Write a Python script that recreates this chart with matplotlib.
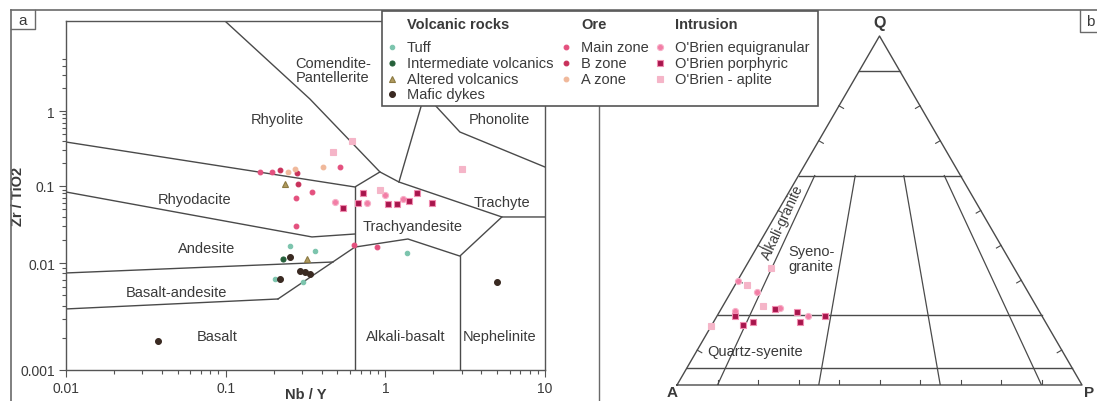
#!/usr/bin/env python3
"""Zr/TiO2 vs Nb/Y classification (a) and QAP ternary (b) for the O'Brien samples."""

import numpy as np
import matplotlib
matplotlib.use("Agg")
import matplotlib.pyplot as plt
from matplotlib.patches import Rectangle

plt.rcParams["font.family"] = ["Liberation Sans", "DejaVu Sans"]

# ---- panel a: Nb/Y (x) vs Zr/TiO2 (y) ----
tuff_nby = [0.253, 0.362, 0.204, 0.305, 1.36]
tuff_zr = [0.0166, 0.0143, 0.00708, 0.00663, 0.0135]
interm_nby = [0.229]
interm_zr = [0.0113]
altered_nby = [0.235, 0.323]
altered_zr = [0.106, 0.0113]
mafic_nby = [0.253, 0.292, 0.314, 0.337, 0.219, 0.0377, 5.00]
mafic_zr = [0.0120, 0.00841, 0.00824, 0.00789, 0.00708, 0.00187, 0.00663]
main_nby = [0.164, 0.195, 0.275, 0.275, 0.347, 0.520, 0.635, 0.885]
main_zr = [0.154, 0.154, 0.0698, 0.0303, 0.0836, 0.179, 0.0171, 0.0161]
bzone_nby = [0.219, 0.279, 0.284]
bzone_zr = [0.163, 0.149, 0.106]
azone_nby = [0.245, 0.272, 0.406]
azone_zr = [0.154, 0.169, 0.179]
equi_nby = [0.483, 0.768, 0.993, 1.29]
equi_zr = [0.0619, 0.0601, 0.0764, 0.0677]
porph_nby = [0.542, 0.724, 0.673, 1.04, 1.18, 1.41, 1.58, 1.96]
porph_zr = [0.0518, 0.0811, 0.0601, 0.0583, 0.0583, 0.0638, 0.0811, 0.0601]
aplite_nby = [0.470, 0.618, 3.02, 0.925]
aplite_zr = [0.284, 0.398, 0.169, 0.0887]

# ---- panel b: modal Q, A, P (%) of the intrusion ----
equi_q = [29.8, 26.6, 22.1, 21.2, 19.8]
equi_a = [70.0, 66.9, 63.5, 75.0, 57.8]
equi_p = [0.2, 6.5, 14.4, 3.8, 22.4]
porph_q = [21.8, 19.8, 20.9, 18.1, 19.8, 18.1, 17.2]
porph_a = [64.9, 75.7, 59.9, 60.6, 53.5, 72.2, 75.1]
porph_p = [13.3, 4.5, 19.2, 21.3, 26.7, 9.7, 7.7]
aplite_q = [33.5, 28.7, 22.6, 16.9]
aplite_a = [60.0, 68.3, 67.4, 83.1]
aplite_p = [6.5, 3.0, 10.0, 0.0]

# Winchester & Floyd field boundaries (Nb/Y, Zr/TiO2)
FIELD_LINES = [
    [(0.099, 15.85), (0.337, 1.445), (0.925, 0.154)],
    [(0.01, 0.386), (0.645, 0.0971), (0.925, 0.154), (1.217, 0.113), (5.37, 0.0396), (10, 0.0396)],
    [(2.40, 15.85), (1.217, 0.113)],
    [(1.745, 1.738), (2.10, 1.13), (2.93, 0.525), (10, 0.179)],
    [(5.37, 0.0396), (2.93, 0.0123), (1.385, 0.0205), (0.645, 0.0161)],
    [(0.645, 0.0971), (0.645, 0.001)],
    [(2.93, 0.0123), (2.93, 0.001)],
    [(0.01, 0.0836), (0.347, 0.0218), (0.645, 0.0238)],
    [(0.01, 0.00807), (0.470, 0.0103)],
    [(0.2126, 0.00461), (0.645, 0.0161)],
    [(0.01, 0.00372), (0.2126, 0.00461)],
]
FIELD_LABELS = [
    ("Comendite-\nPantellerite", 0.47, 3.5),
    ("Rhyolite", 0.212, 0.78),
    ("Phonolite", 5.2, 0.78),
    ("Rhyodacite", 0.0643, 0.0677),
    ("Trachyte", 5.37, 0.0619),
    ("Trachyandesite", 1.49, 0.0303),
    ("Andesite", 0.0763, 0.0157),
    ("Basalt-andesite", 0.0495, 0.00536),
    ("Basalt", 0.0882, 0.00208),
    ("Alkali-basalt", 1.35, 0.00208),
    ("Nephelinite", 5.2, 0.00208),
]

STYLE = {
    "Tuff": dict(marker="o", ms=3.2, color="#7cc4ad", mec="#7cc4ad"),
    "Intermediate volcanics": dict(marker="o", ms=3.6, color="#25603a", mec="#25603a"),
    "Altered volcanics": dict(marker="^", ms=4.4, color="#b09a5e", mec="#8c7a42"),
    "Mafic dykes": dict(marker="o", ms=4.2, color="#3a2a22", mec="#3a2a22"),
    "Main zone": dict(marker="o", ms=3.4, color="#e4507e", mec="#e4507e"),
    "B zone": dict(marker="o", ms=3.4, color="#c8305a", mec="#c8305a"),
    "A zone": dict(marker="o", ms=3.4, color="#f0b89a", mec="#f0b89a"),
    "O'Brien equigranular": dict(marker="o", ms=4.4, color="#f27ea6", mec="#f7b0c8"),
    "O'Brien porphyric": dict(marker="s", ms=4.6, color="#a8154c", mec="#f08cb0"),
    "O'Brien - aplite": dict(marker="s", ms=4.4, color="#f5b5c8", mec="#f5b5c8"),
}

LINE_C = "#4a4a4a"
TEXT_C = "#3a3a3a"
FS = 10.5

# the printed y axis is not evenly spaced per decade; follow it piecewise
Y_LOG = [-6.0, -3.0, -2.0, -1.0, 0.0, 4.0]
Y_POS = [-321.0, 0.0, 107.0, 184.0, 259.0, 559.0]


def y_fwd(v):
    v = np.asarray(v, dtype=float)
    lg = np.log10(np.where(v > 0, v, 1e-300))
    return np.interp(lg, Y_LOG, Y_POS)


def y_inv(p):
    return 10 ** np.interp(np.asarray(p, dtype=float), Y_POS, Y_LOG)


def tern_xy(q, a, p):
    q, a, p = (np.asarray(v, dtype=float) for v in (q, a, p))
    s = q + a + p
    return (p + 0.5 * q) / s, (np.sqrt(3) / 2) * q / s


def pt(ax, x, y, name, **kw):
    ax.plot(x, y, ls="none", mew=0.8, **STYLE[name], **kw)


fig = plt.figure(figsize=(10.97, 4.02), dpi=100)

# ---------------- panel a ----------------
ax = fig.add_axes([66 / 1097, 31 / 402, 479 / 1097, 349 / 402])
ax.set_xscale("log")
ax.set_yscale("function", functions=(y_fwd, y_inv))
ax.set_xlim(0.01, 10)
ax.set_ylim(0.001, 10 ** 1.2)

for seg in FIELD_LINES:
    xs, ys = zip(*seg)
    ax.plot(xs, ys, color=LINE_C, lw=1.0, zorder=1)
for txt, x, y in FIELD_LABELS:
    ax.text(x, y, txt, ha="center", va="center", fontsize=FS, color=TEXT_C,
            linespacing=1.0, zorder=2)

pt(ax, tuff_nby, tuff_zr, "Tuff", zorder=3)
pt(ax, interm_nby, interm_zr, "Intermediate volcanics", zorder=3)
pt(ax, altered_nby, altered_zr, "Altered volcanics", zorder=3)
pt(ax, mafic_nby, mafic_zr, "Mafic dykes", zorder=3)
pt(ax, main_nby, main_zr, "Main zone", zorder=4)
pt(ax, bzone_nby, bzone_zr, "B zone", zorder=4)
pt(ax, azone_nby, azone_zr, "A zone", zorder=4)
pt(ax, equi_nby, equi_zr, "O'Brien equigranular", zorder=4)
pt(ax, porph_nby, porph_zr, "O'Brien porphyric", zorder=5)
pt(ax, aplite_nby, aplite_zr, "O'Brien - aplite", zorder=4)

ax.set_xticks([0.01, 0.1, 1, 10])
ax.set_xticklabels(["0.01", "0.1", "1", "10"])
ax.set_xticks([m * 10.0 ** e for e in (-2, -1, 0) for m in range(2, 10)], minor=True)
ax.set_yticks([0.001, 0.01, 0.1, 1])
ax.set_yticklabels(["0.001", "0.01", "0.1", "1"])
ax.set_yticks([m * 10.0 ** e for e in (-3, -2, -1) for m in range(2, 10)] + [2, 3, 4, 5],
              minor=True)
ax.tick_params(which="both", direction="out", colors="#555555", labelcolor=TEXT_C,
               labelsize=10, width=0.8)
ax.tick_params(which="major", length=5, pad=3)
ax.tick_params(which="minor", length=3)
ax.xaxis.set_minor_formatter(plt.NullFormatter())
ax.yaxis.set_minor_formatter(plt.NullFormatter())
for sp in ax.spines.values():
    sp.set_color("#555555")
    sp.set_linewidth(1.0)

ax.set_xlabel("Nb / Y", fontsize=FS, fontweight="bold", color=TEXT_C)
ax.xaxis.set_label_coords(0.5, -0.05)
ax.set_ylabel("Zr / TiO2", fontsize=FS, fontweight="bold", color=TEXT_C)
ax.yaxis.set_label_coords(-0.086, 0.50)

# ---------------- panel b (QAP) ----------------
tx = fig.add_axes([677 / 1097, 16 / 402, 405 / 1097, 349 / 402])
tx.set_xlim(0, 1)
tx.set_ylim(0, np.sqrt(3) / 2)
tx.axis("off")

edge = tern_xy([0, 0, 100, 0], [100, 0, 0, 100], [0, 100, 0, 0])
tx.plot(*edge, color=LINE_C, lw=1.0, clip_on=False)
for q in (90, 60, 20, 5):
    x, y = tern_xy([q, q], [100 - q, 0], [0, 100 - q])
    tx.plot(x, y, color=LINE_C, lw=1.0)
for r in (0.10, 0.35, 0.65, 0.90):
    x, y = tern_xy([0, 60], [100 * (1 - r), 40 * (1 - r)], [100 * r, 40 * r])
    tx.plot(x, y, color=LINE_C, lw=0.9)

# small ticks every 10 % on the three edges (skipped where a field line already meets it)
L = 0.013
for k in range(10, 100, 10):
    bx, by = tern_xy(0, 100 - k, k)
    tx.plot([bx, bx], [by, by + L], color=LINE_C, lw=0.8)
    if k in (20, 60, 90):
        continue
    lx, ly = tern_xy(k, 100 - k, 0)
    tx.plot([lx, lx + 0.866 * L], [ly, ly - 0.5 * L], color=LINE_C, lw=0.8)
    rx, ry = tern_xy(k, 0, 100 - k)
    tx.plot([rx, rx - 0.866 * L], [ry, ry - 0.5 * L], color=LINE_C, lw=0.8)

pt(tx, *tern_xy(aplite_q, aplite_a, aplite_p), "O'Brien - aplite", zorder=4, clip_on=False)
pt(tx, *tern_xy(equi_q, equi_a, equi_p), "O'Brien equigranular", zorder=4, clip_on=False)
pt(tx, *tern_xy(porph_q, porph_a, porph_p), "O'Brien porphyric", zorder=5, clip_on=False)

tx.text(0.5, 0.90, "Q", ha="center", va="center", fontsize=11.5, fontweight="bold", color=TEXT_C)
tx.text(-0.012, -0.018, "A", ha="center", va="center", fontsize=11, fontweight="bold", color=TEXT_C)
tx.text(1.017, -0.018, "P", ha="center", va="center", fontsize=11, fontweight="bold", color=TEXT_C)
tx.text(0.262, 0.407, "Alkali-granite", ha="center", va="center", fontsize=FS - 0.5,
        color=TEXT_C, rotation=65, rotation_mode="anchor")
tx.text(0.274, 0.313, "Syeno-\ngranite", ha="left", va="center", fontsize=FS,
        color=TEXT_C, linespacing=1.1)
tx.text(0.074, 0.084, "Quartz-syenite", ha="left", va="center", fontsize=FS, color=TEXT_C)

# ---------------- frame, panel tags and legend ----------------
ov = fig.add_axes([0, 0, 1, 1], zorder=10)
ov.set_xlim(0, 1097)
ov.set_ylim(402, 0)
ov.axis("off")

FRAME_C = "#6a6a6a"
ov.plot([11, 1097], [11, 11], color=FRAME_C, lw=1.2, zorder=1)
ov.plot([11, 11], [11, 402], color=FRAME_C, lw=1.2, zorder=1)
ov.plot([599, 599], [11, 402], color=FRAME_C, lw=1.0, zorder=1)
ov.plot([11, 35, 35], [30, 30, 11], color=FRAME_C, lw=1.0, zorder=1)
ov.plot([1080, 1080, 1097], [11, 33, 33], color=FRAME_C, lw=1.0, zorder=1)
ov.text(23, 21, "a", ha="center", va="center", fontsize=11, color=TEXT_C)
ov.text(1090, 22, "b", ha="center", va="center", fontsize=11, color=TEXT_C)

ov.add_patch(Rectangle((382, 12), 436, 95, facecolor="white", edgecolor="#555555",
                       lw=1.2, zorder=3))
LEGEND_GROUPS = [
    ("Volcanic rocks", 392, ["Tuff", "Intermediate volcanics", "Altered volcanics", "Mafic dykes"]),
    ("Ore", 566, ["Main zone", "B zone", "A zone"]),
    ("Intrusion", 660, ["O'Brien equigranular", "O'Brien porphyric", "O'Brien - aplite"]),
]
ROWS = [48, 64, 80, 95]
for head, mx, names in LEGEND_GROUPS:
    ov.text(mx + 15, 25, head, ha="left", va="center", fontsize=FS, fontweight="bold",
            color=TEXT_C, zorder=4)
    for name, yy in zip(names, ROWS):
        ov.plot([mx], [yy], ls="none", mew=0.8, zorder=4, **STYLE[name])
        ov.text(mx + 15, yy, name, ha="left", va="center", fontsize=FS, color=TEXT_C, zorder=4)

fig.savefig("out.png", dpi=100, facecolor="white")
